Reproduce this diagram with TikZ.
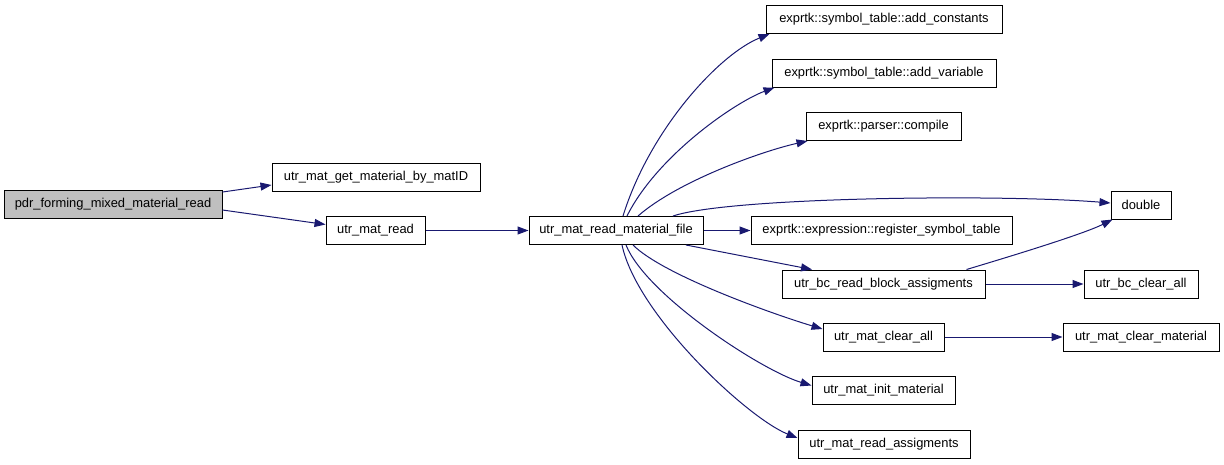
\documentclass[tikz,border=0pt]{standalone}
\usepackage{fontspec}
\setmainfont{Liberation Sans}
\usetikzlibrary{arrows.meta}
\definecolor{edgecol}{HTML}{191970}
\definecolor{rootfill}{HTML}{BFBFBF}
\tikzset{
  fn/.style={draw=black, line width=1pt, fill=white, minimum height=28pt, inner xsep=0pt, inner ysep=0pt, font=\fontsize{12.9}{15}\selectfont, anchor=center},
  rootfn/.style={fn, fill=rootfill},
  edge/.style={draw=edgecol, line width=1pt, -{Triangle[length=11pt,width=8pt]}, color=edgecol}
}
\begin{document}
\begin{tikzpicture}[x=1pt,y=-1pt]
\useasboundingbox (0,0) rectangle (1224,464);
\node[rootfn, minimum width=218pt] (pdr) at (113,204) {pdr\_forming\_mixed\_material\_read};
\node[fn, minimum width=208pt] (get) at (376,177) {utr\_mat\_get\_material\_by\_matID};
\node[fn, minimum width=99pt] (mread) at (375.5,230.5) {utr\_mat\_read};
\node[fn, minimum width=174pt] (rmf) at (616,230.5) {utr\_mat\_read\_material\_file};
\node[fn, minimum width=236pt] (ac) at (884,19.5) {exprtk::symbol\_table::add\_constants};
\node[fn, minimum width=224pt] (av) at (884,73) {exprtk::symbol\_table::add\_variable};
\node[fn, minimum width=155pt] (comp) at (883.5,126.5) {exprtk::parser::compile};
\node[fn, minimum width=60pt] (dbl) at (1141,205) {double};
\node[fn, minimum width=261pt] (reg) at (881.5,230.5) {exprtk::expression::register\_symbol\_table};
\node[fn, minimum width=203pt] (bcr) at (883.5,284) {utr\_bc\_read\_block\_assigments};
\node[fn, minimum width=114pt] (bcc) at (1141,284) {utr\_bc\_clear\_all};
\node[fn, minimum width=121pt] (mca) at (883.5,337) {utr\_mat\_clear\_all};
\node[fn, minimum width=156pt] (mcm) at (1141,337) {utr\_mat\_clear\_material};
\node[fn, minimum width=143pt] (mim) at (883.5,390.5) {utr\_mat\_init\_material};
\node[fn, minimum width=172pt] (mra) at (884,444) {utr\_mat\_read\_assigments};

\draw[edge] ([yshift=12pt]pdr.east) -- ([yshift=-8pt]get.west);
\draw[edge] ([yshift=-6pt]pdr.east) -- ([yshift=6pt]mread.west);
\draw[edge] (mread.east) -- (rmf.west);
\draw[edge] ([xshift=7pt]rmf.north) .. controls +(27,-87) and +(-50,20) .. ([xshift=4pt]ac.south west);
\draw[edge] ([xshift=11pt]rmf.north) .. controls +(30,-60) and +(-40,15) .. ([xshift=3pt]av.south west);
\draw[edge] ([xshift=22pt]rmf.north) .. controls +(40,-35) and +(-45,10) .. ([xshift=2pt]comp.south west);
\draw[edge] ([xshift=57pt]rmf.north) .. controls +(57,-19) and +(-111,-9) .. ([yshift=2pt]dbl.west);
\draw[edge] (rmf.east) -- (reg.west);
\draw[edge] ([xshift=70pt]rmf.south) -- ([xshift=-71.5pt]bcr.north);
\draw[edge] ([xshift=83pt]bcr.north) .. controls +(40,-12) and +(-30,15) .. ([xshift=2pt]dbl.south west);
\draw[edge] (bcr.east) -- (bcc.west);
\draw[edge] ([xshift=17pt]rmf.south) .. controls +(30,30) and +(-50,-15) .. ([yshift=8pt]mca.west);
\draw[edge] (mca.east) -- (mcm.west);
\draw[edge] ([xshift=10pt]rmf.south) .. controls +(20,50) and +(-50,-15) .. ([yshift=5pt]mim.west);
\draw[edge] ([xshift=6pt]rmf.south) .. controls +(15,70) and +(-50,-20) .. ([yshift=6pt]mra.west);
\end{tikzpicture}
\end{document}
